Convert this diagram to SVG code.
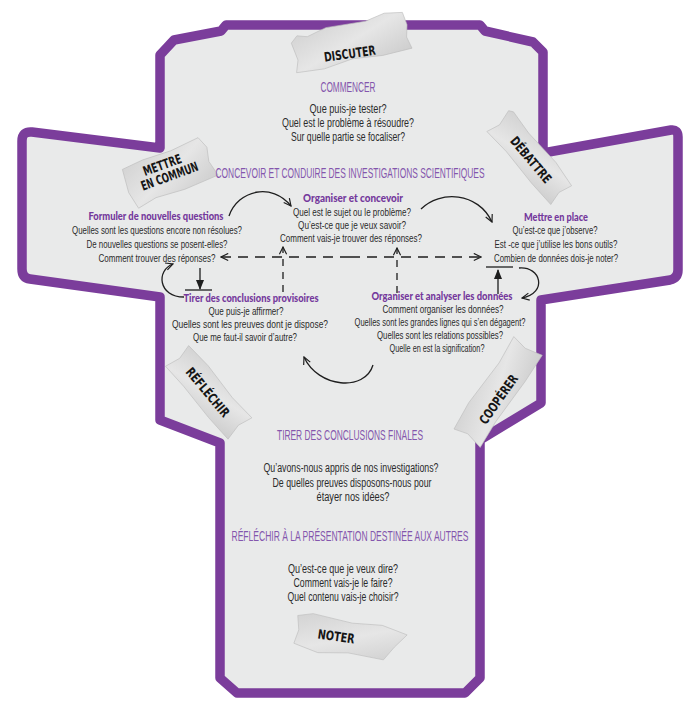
<svg xmlns="http://www.w3.org/2000/svg" width="694" height="714" viewBox="0 0 694 714">
<defs>
<style>
.t{font-family:"Liberation Sans Narrow","Liberation Sans",Arial,sans-serif;font-size:11px;fill:#2b2b2b;text-anchor:middle}
.tb{font-family:"Liberation Sans Narrow","Liberation Sans",Arial,sans-serif;font-size:12px;fill:#2b2b2b;text-anchor:middle}
.h{font-family:"Liberation Sans Narrow","Liberation Sans",Arial,sans-serif;font-size:14px;fill:#8456ad;text-anchor:middle}
.s{font-family:"Lato","DejaVu Sans",sans-serif;font-weight:900;font-size:10.5px;fill:#74389c;text-anchor:middle}
.tape{fill:url(#tg);stroke:#bdbdbd;stroke-width:0.6}
.tt{font-family:"DejaVu Sans","Liberation Sans",sans-serif;font-weight:bold;font-size:13px;fill:#151515;text-anchor:middle}
.c{fill:none;stroke:#1e1e1e;stroke-width:1.3}
.d{fill:none;stroke:#1e1e1e;stroke-width:1.3;stroke-dasharray:10 7}
.dv{fill:none;stroke:#1e1e1e;stroke-width:1.3;stroke-dasharray:7 6}
</style>
<linearGradient id="tg" x1="0" y1="0" x2="1" y2="1">
<stop offset="0" stop-color="#d2d2d2"/>
<stop offset="0.5" stop-color="#e6e6e6"/>
<stop offset="1" stop-color="#cdcdcd"/>
</linearGradient>
<marker id="op" viewBox="0 0 10 10" refX="9" refY="5" markerWidth="9" markerHeight="9" orient="auto" markerUnits="userSpaceOnUse">
<path d="M1,1 L9,5 L1,9" fill="none" stroke="#1e1e1e" stroke-width="1.3"/>
</marker>
<marker id="fl" viewBox="0 0 10 10" refX="9" refY="5" markerWidth="10" markerHeight="10" orient="auto" markerUnits="userSpaceOnUse">
<path d="M0,1 L10,5 L0,9 Z" fill="#1e1e1e"/>
</marker>
</defs>

<g id="outline">
<path d="M160,148 L160,55 L174,40 L221,31 L226,25 L480,25 L485,31 L533,42 L543,52 L543,153 L671,130 Q678,129 678,137 L678,270 Q678,278 670,280 L541,300 L541,403 L480,440 L480,678 L465,693 L237,693 L220,678 L220,443 L160,420 L160,297 L30,279 Q22,278 22,269 L22,141 Q22,131 32,132 Z" fill="#e9eaea" stroke="#7b3d9b" stroke-width="9.5" stroke-linejoin="round"/>
</g>

<g id="tapes">
<g id="tape-discuter" transform="translate(350,45) rotate(-12)">
<polygon class="tape" points="-57,-14 -50,-20 -40,-17 -20,-22 20,-20 40,-24 58,-21 60,-8 57,4 60,16 30,17 0,14 -30,18 -58,16 -54,4"/>
<text class="tt" x="-2" y="13" transform="rotate(4,-2,8)" textLength="52" lengthAdjust="spacingAndGlyphs">DISCUTER</text>
</g>
<g id="tape-mettre" transform="translate(168,172) rotate(-20)">
<polygon class="tape" points="-42,-18 -20,-20 10,-19 40,-22 45,-10 42,4 46,20 10,22 -20,20 -40,24 -44,6"/>
<text class="tt" x="-3" y="-4" textLength="40" lengthAdjust="spacingAndGlyphs">METTRE</text>
<text class="tt" x="0" y="9" textLength="60" lengthAdjust="spacingAndGlyphs">EN COMMUN</text>
</g>
<g id="tape-debattre" transform="translate(530,158) rotate(50)">
<polygon class="tape" points="-50,-14 -46,-17 -20,-15 20,-17 48,-14 45,0 49,14 20,15 -20,14 -48,16 -45,2"/>
<text class="tt" x="2" y="5" textLength="56" lengthAdjust="spacingAndGlyphs">DÉBATTRE</text>
</g>
<g id="tape-reflechir" transform="translate(208,392) rotate(50)">
<polygon class="tape" points="-48,-15 -20,-17 20,-15 48,-17 45,-2 49,15 20,16 -20,15 -47,16 -44,0"/>
<text class="tt" x="0" y="5" textLength="60" lengthAdjust="spacingAndGlyphs">RÉFLÉCHIR</text>
</g>
<g id="tape-cooperer" transform="translate(497,392) rotate(-55)">
<polygon class="tape" points="-55,-14 -25,-17 25,-15 55,-18 52,-2 56,16 25,17 -25,16 -55,18 -51,0"/>
<text class="tt" x="-5" y="10" textLength="57" lengthAdjust="spacingAndGlyphs">COOPÉRER</text>
</g>
<g id="tape-noter" transform="translate(350,639) rotate(8)">
<polygon class="tape" points="-55,-16 -40,-20 0,-16 30,-18 56,-12 45,2 36,16 0,14 -30,18 -55,12 -52,-2"/>
<text class="tt" x="-14" y="4" textLength="37" lengthAdjust="spacingAndGlyphs">NOTER</text>
</g>
</g>

<g id="commencer">
<text class="h" x="348" y="92" textLength="55" lengthAdjust="spacingAndGlyphs">COMMENCER</text>
<text class="tb" x="348" y="113" textLength="77" lengthAdjust="spacingAndGlyphs">Que puis-je tester?</text>
<text class="tb" x="348" y="127" textLength="132" lengthAdjust="spacingAndGlyphs">Quel est le problème à résoudre?</text>
<text class="tb" x="348" y="141" textLength="114" lengthAdjust="spacingAndGlyphs">Sur quelle partie se focaliser?</text>
</g>

<g id="concevoir-titre">
<text class="h" x="350" y="178" textLength="269" lengthAdjust="spacingAndGlyphs">CONCEVOIR ET CONDUIRE DES INVESTIGATIONS SCIENTIFIQUES</text>
</g>

<g id="formuler">
<text class="s" x="156" y="220" textLength="135" lengthAdjust="spacingAndGlyphs">Formuler de nouvelles questions</text>
<text class="t" x="157" y="234" textLength="170" lengthAdjust="spacingAndGlyphs">Quelles sont les questions encore non résolues?</text>
<text class="t" x="157" y="248" textLength="141" lengthAdjust="spacingAndGlyphs">De nouvelles questions se posent-elles?</text>
<text class="t" x="157" y="262" textLength="117" lengthAdjust="spacingAndGlyphs">Comment trouver des réponses?</text>
</g>

<g id="organiser-concevoir">
<text class="s" x="353" y="202" textLength="100" lengthAdjust="spacingAndGlyphs">Organiser et concevoir</text>
<text class="t" x="352" y="216" textLength="118" lengthAdjust="spacingAndGlyphs">Quel est le sujet ou le problème?</text>
<text class="t" x="352" y="229" textLength="108" lengthAdjust="spacingAndGlyphs">Qu’est-ce que je veux savoir?</text>
<text class="t" x="351" y="242" textLength="142" lengthAdjust="spacingAndGlyphs">Comment vais-je trouver des réponses?</text>
</g>

<g id="mettre-en-place">
<text class="s" x="556" y="221" textLength="64" lengthAdjust="spacingAndGlyphs">Mettre en place</text>
<text class="t" x="555" y="234" textLength="85" lengthAdjust="spacingAndGlyphs">Qu’est-ce que j’observe?</text>
<text class="t" x="556" y="248" textLength="123" lengthAdjust="spacingAndGlyphs">Est -ce que j’utilise les bons outils?</text>
<text class="t" x="556" y="262" textLength="124" lengthAdjust="spacingAndGlyphs">Combien de données dois-je noter?</text>
</g>

<g id="tirer-provisoires">
<text class="s" x="251" y="302" textLength="135" lengthAdjust="spacingAndGlyphs">Tirer des conclusions provisoires</text>
<text class="t" x="246" y="315" textLength="75" lengthAdjust="spacingAndGlyphs">Que puis-je affirmer?</text>
<text class="t" x="250" y="328" textLength="156" lengthAdjust="spacingAndGlyphs">Quelles sont les preuves dont je dispose?</text>
<text class="t" x="245" y="341" textLength="104" lengthAdjust="spacingAndGlyphs">Que me faut-il savoir d’autre?</text>
</g>

<g id="organiser-analyser">
<text class="s" x="442" y="300" textLength="141" lengthAdjust="spacingAndGlyphs">Organiser et analyser les données</text>
<text class="t" x="443" y="313" textLength="121" lengthAdjust="spacingAndGlyphs">Comment organiser les données?</text>
<text class="t" x="440" y="326" textLength="171" lengthAdjust="spacingAndGlyphs">Quelles sont les grandes lignes qui s’en dégagent?</text>
<text class="t" x="440" y="339" textLength="126" lengthAdjust="spacingAndGlyphs">Quelles sont les relations possibles?</text>
<text class="t" x="437" y="352" textLength="95" lengthAdjust="spacingAndGlyphs">Quelle en est la signification?</text>
</g>

<g id="conclusions-finales">
<text class="h" x="350" y="440" textLength="146" lengthAdjust="spacingAndGlyphs">TIRER DES CONCLUSIONS FINALES</text>
<text class="tb" x="351" y="472" textLength="175" lengthAdjust="spacingAndGlyphs">Qu’avons-nous appris de nos investigations?</text>
<text class="tb" x="352" y="487" textLength="159" lengthAdjust="spacingAndGlyphs">De quelles preuves disposons-nous pour</text>
<text class="tb" x="353" y="501" textLength="73" lengthAdjust="spacingAndGlyphs">étayer nos idées?</text>
</g>

<g id="presentation">
<text class="h" x="350" y="541" textLength="237" lengthAdjust="spacingAndGlyphs">RÉFLÉCHIR À LA PRÉSENTATION DESTINÉE AUX AUTRES</text>
<text class="tb" x="343" y="573" textLength="110" lengthAdjust="spacingAndGlyphs">Qu’est-ce que je veux dire?</text>
<text class="tb" x="343" y="587" textLength="99" lengthAdjust="spacingAndGlyphs">Comment vais-je le faire?</text>
<text class="tb" x="343" y="601" textLength="111" lengthAdjust="spacingAndGlyphs">Quel contenu vais-je choisir?</text>
</g>

<g id="connectors">
<path class="c" d="M229,216 C238,190 272,182 291,206" marker-end="url(#op)"/>
<path class="c" d="M421,209 C440,190 478,192 492,222" marker-end="url(#op)"/>
<path class="c" d="M519,268 C541,266 548,293 522,298" marker-end="url(#op)"/>
<path class="c" d="M373,365 C365,392 318,388 304,357" marker-end="url(#op)"/>
<path class="c" d="M184,297 C158,297 156,270 173,264" marker-end="url(#op)"/>
<path class="c" d="M498,294 L498,270" marker-end="url(#fl)"/>
<path class="c" d="M486,267 L513,267"/>
<path class="c" d="M200,268 L200,289" marker-end="url(#fl)"/>
<path class="c" d="M185,290 L212,290"/>
<path class="d" d="M350,257 L221,257" marker-end="url(#op)"/>
<path class="d" d="M350,257 L481,257" marker-end="url(#op)"/>
<path class="dv" d="M283,292 L283,247" marker-end="url(#op)"/>
<path class="dv" d="M397,293 L397,248" marker-end="url(#op)"/>
</g>
</svg>
